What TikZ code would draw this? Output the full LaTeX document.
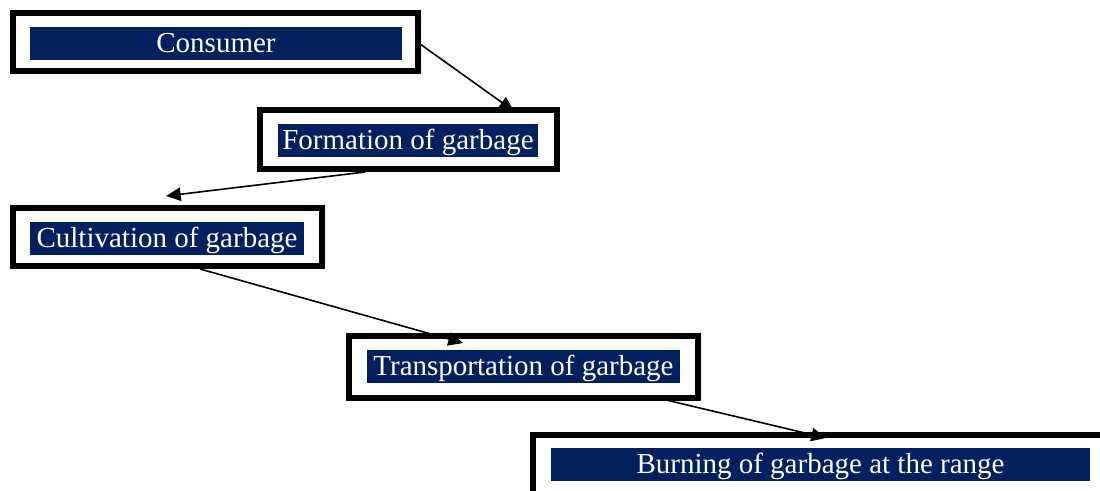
\documentclass[tikz,border=0pt]{standalone}
\usepackage{fontspec}
\setmainfont{Liberation Serif}
\usetikzlibrary{arrows.meta}
\definecolor{navy}{RGB}{0,32,96}
\begin{document}
\begin{tikzpicture}[x=0.75pt,y=-0.75pt,
  frame/.style={draw=black,line width=4.5pt,fill=white,inner sep=0pt},
  band/.style={fill=navy,text=white,inner sep=0pt,minimum height=24.75pt,
    text height=16.4pt,text depth=2.2pt,font=\fontsize{21.75}{26}\selectfont},
  arr/.style={draw=black,line width=1.2pt,-{Triangle[length=11pt,width=10pt]}}]
\path[use as bounding box] (0,0) rectangle (1100,490);
\clip (0,0) rectangle (1100,490);
% frames
\node[frame,minimum width=304.1pt,minimum height=43.5pt] (consumer) at (215.25,42) {};
\node[frame,minimum width=222.75pt,minimum height=44.25pt] (formation) at (408.5,139.5) {};
\node[frame,minimum width=231.75pt,minimum height=43.5pt] (cultivation) at (167.5,237) {};
\node[frame,minimum width=261.75pt,minimum height=46.5pt] (transport) at (523.5,367) {};
\node[frame,minimum width=436.5pt,minimum height=60pt] (burning) at (824,475) {};
% bands
\node[band,minimum width=279pt] (tconsumer) at (216,43.5) {Consumer};
\node[band,minimum width=195pt] (tformation) at (408,140.5) {Formation of garbage};
\node[band,minimum width=205.5pt] (tcultivation) at (167,238.5) {Cultivation of garbage};
\node[band,minimum width=234.75pt] (ttransport) at (523.5,366.5) {Transportation of garbage};
\node[band,minimum width=404.25pt] (tburning) at (820.5,464.5) {Burning of garbage at the range};
% connectors
\draw[arr] ([yshift=-2pt]consumer.east) -- ([xshift=79pt,yshift=-3pt]formation.north);
\draw[arr] ([xshift=-32.6pt]formation.south) -- ([xshift=-1.1pt,yshift=6.75pt]cultivation.north);
\draw[arr] ([xshift=24.4pt]cultivation.south) -- ([xshift=-45.4pt,yshift=-7.5pt]transport.north);
\draw[arr] ([xshift=103.9pt,yshift=1.5pt]transport.south) -- ([xshift=1.5pt,yshift=-4.5pt]burning.north);
\end{tikzpicture}
\end{document}
